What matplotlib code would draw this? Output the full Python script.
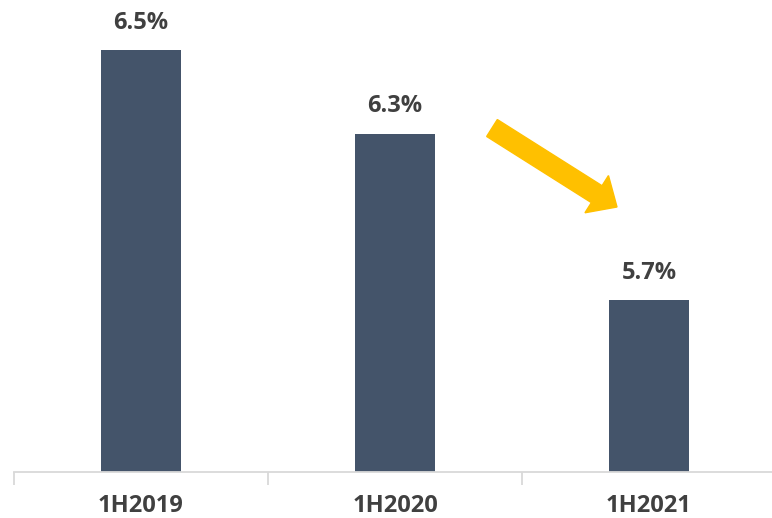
import matplotlib.pyplot as plt
from matplotlib.patches import FancyArrow

periods = ["1H2019", "1H2020", "1H2021"]
rates = [6.53, 6.26, 5.72]   # % ; labels show one decimal

bar_color = "#44546A"
text_color = "#404040"
axis_color = "#D9D9D9"

plt.rcParams['font.family'] = ['Open Sans', 'DejaVu Sans']

fig = plt.figure(figsize=(7.72, 5.18), dpi=100)
ax = fig.add_axes([14 / 772, 46 / 518, 762 / 772, 462 / 518])

x = range(len(periods))
bars = ax.bar(x, rates, width=0.315, color=bar_color, zorder=2)

ax.set_xlim(-0.5, 2.5)
ax.set_ylim(5.164, 6.66)

for b, v in zip(bars, rates):
    ax.annotate("{:.1f}%".format(v), (b.get_x() + b.get_width() / 2, v),
                xytext=(0, 11), textcoords="offset points", ha="center",
                va="bottom", fontsize=17, fontweight="bold", color=text_color)

ax.set_xticks([-0.5, 0.5, 1.5, 2.5], minor=False)
ax.set_xticklabels([])
ax.set_xticks(list(x), minor=True)
ax.set_xticklabels(periods, minor=True, fontsize=17, fontweight="bold",
                   color=text_color)
ax.tick_params(axis="x", which="major", length=9, width=1.3, color=axis_color)
ax.tick_params(axis="x", which="minor", length=0, pad=16)

ax.set_yticks([])
for s in ["top", "right", "left"]:
    ax.spines[s].set_visible(False)
ax.spines["bottom"].set_color(axis_color)
ax.spines["bottom"].set_linewidth(1.3)

# yellow downward arrow (figure inches)
arrow = FancyArrow(4.92, 3.90, 1.25, -0.79, width=0.20, head_width=0.44,
                   head_length=0.24, length_includes_head=True,
                   color="#FFC000", transform=fig.dpi_scale_trans)
fig.patches.append(arrow)

fig.savefig("out.png", dpi=100)
